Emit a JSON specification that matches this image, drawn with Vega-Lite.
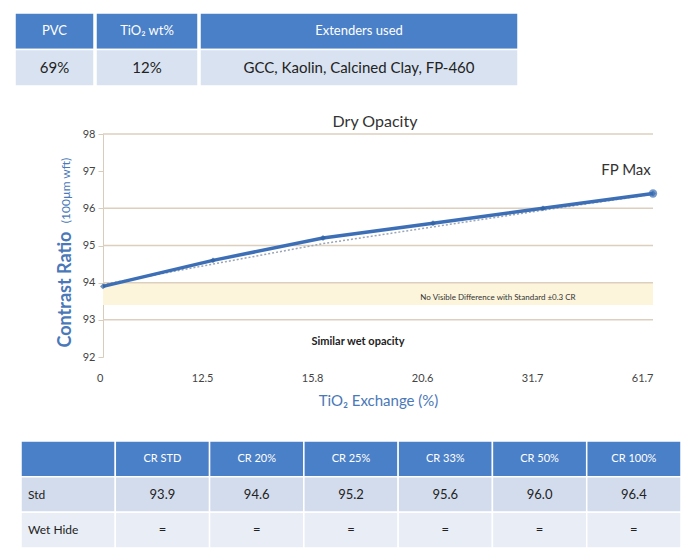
{
  "$schema": "https://vega.github.io/schema/vega-lite/v6.json",
  "padding": {"left": 14, "top": 12, "right": 7, "bottom": 4},
  "background": "white",
  "config": {"view": {"stroke": null}, "font": "Lato", "concat": {"spacing": 25}},
  "spacing": 25,
  "resolve": {"scale": {"color": "independent"}},
  "datasets": {
    "top": [
      {"col": "PVC", "row": "header", "text": "PVC"},
      {"col": "PVC", "row": "data", "text": "69%"},
      {"col": "TiO2", "row": "header", "text": "TiO₂ wt%"},
      {"col": "TiO2", "row": "data", "text": "12%"},
      {"col": "Ext", "row": "header", "text": "Extenders used"},
      {"col": "Ext", "row": "data", "text": "GCC, Kaolin, Calcined Clay, FP-460"}
    ],
    "cr": [
      {"exch": "0", "cr": 93.9, "trend": 93.95},
      {"exch": "12.5", "cr": 94.6, "trend": 94.5},
      {"exch": "15.8", "cr": 95.2, "trend": 95.05},
      {"exch": "20.6", "cr": 95.6, "trend": 95.5},
      {"exch": "31.7", "cr": 96.0, "trend": 95.95},
      {"exch": "61.7", "cr": 96.4, "trend": 96.38}
    ],
    "grid": [{"v": 98}, {"v": 96}, {"v": 95}, {"v": 94}, {"v": 93}],
    "band": [{"lo": 93.4, "hi": 94.0}],
    "one": [{}],
    "bottom": [
      {"row": "header", "col": "lbl", "text": ""},
      {"row": "header", "col": "CR STD", "text": "CR STD"},
      {"row": "header", "col": "CR 20%", "text": "CR 20%"},
      {"row": "header", "col": "CR 25%", "text": "CR 25%"},
      {"row": "header", "col": "CR 33%", "text": "CR 33%"},
      {"row": "header", "col": "CR 50%", "text": "CR 50%"},
      {"row": "header", "col": "CR 100%", "text": "CR 100%"},
      {"row": "Std", "col": "lbl", "text": "Std"},
      {"row": "Std", "col": "CR STD", "text": "93.9"},
      {"row": "Std", "col": "CR 20%", "text": "94.6"},
      {"row": "Std", "col": "CR 25%", "text": "95.2"},
      {"row": "Std", "col": "CR 33%", "text": "95.6"},
      {"row": "Std", "col": "CR 50%", "text": "96.0"},
      {"row": "Std", "col": "CR 100%", "text": "96.4"},
      {"row": "Wet Hide", "col": "lbl", "text": "Wet Hide"},
      {"row": "Wet Hide", "col": "CR STD", "text": "="},
      {"row": "Wet Hide", "col": "CR 20%", "text": "="},
      {"row": "Wet Hide", "col": "CR 25%", "text": "="},
      {"row": "Wet Hide", "col": "CR 33%", "text": "="},
      {"row": "Wet Hide", "col": "CR 50%", "text": "="},
      {"row": "Wet Hide", "col": "CR 100%", "text": "="}
    ]
  },
  "vconcat": [
    {
      "spacing": 0,
      "hconcat": [
        {
          "width": 79, "height": 73,
          "data": {"name": "top"},
          "transform": [{"filter": "datum.col === 'PVC'"}],
          "encoding": {"y": {"field": "row", "type": "nominal", "scale": {"domain": ["header", "data"], "paddingInner": 0, "paddingOuter": 0}, "axis": null}},
          "layer": [
            {"mark": {"type": "rect", "stroke": "white", "strokeWidth": 1.5}, "encoding": {"color": {"field": "row", "type": "nominal", "scale": {"domain": ["header", "data"], "range": ["#4a80c8", "#d9e2f0"]}, "legend": null}}},
            {"mark": {"type": "text"}, "encoding": {"text": {"field": "text"}, "size": {"condition": {"test": "datum.row === 'header'", "value": 13}, "value": 15}, "color": {"condition": {"test": "datum.row === 'header'", "value": "white"}, "value": "#222"}}}
          ]
        },
        {
          "width": 102, "height": 73,
          "data": {"name": "top"},
          "transform": [{"filter": "datum.col === 'TiO2'"}],
          "encoding": {"y": {"field": "row", "type": "nominal", "scale": {"domain": ["header", "data"], "paddingInner": 0, "paddingOuter": 0}, "axis": null}},
          "layer": [
            {"mark": {"type": "rect", "stroke": "white", "strokeWidth": 1.5}, "encoding": {"color": {"field": "row", "type": "nominal", "scale": {"domain": ["header", "data"], "range": ["#4a80c8", "#d9e2f0"]}, "legend": null}}},
            {"mark": {"type": "text"}, "encoding": {"text": {"field": "text"}, "size": {"condition": {"test": "datum.row === 'header'", "value": 13}, "value": 15}, "color": {"condition": {"test": "datum.row === 'header'", "value": "white"}, "value": "#222"}}}
          ]
        },
        {
          "width": 318, "height": 73,
          "data": {"name": "top"},
          "transform": [{"filter": "datum.col === 'Ext'"}],
          "encoding": {"y": {"field": "row", "type": "nominal", "scale": {"domain": ["header", "data"], "paddingInner": 0, "paddingOuter": 0}, "axis": null}},
          "layer": [
            {"mark": {"type": "rect", "stroke": "white", "strokeWidth": 1.5}, "encoding": {"color": {"field": "row", "type": "nominal", "scale": {"domain": ["header", "data"], "range": ["#4a80c8", "#d9e2f0"]}, "legend": null}}},
            {"mark": {"type": "text"}, "encoding": {"text": {"field": "text"}, "size": {"condition": {"test": "datum.row === 'header'", "value": 13}, "value": 15}, "color": {"condition": {"test": "datum.row === 'header'", "value": "white"}, "value": "#222"}}}
          ]
        }
      ]
    },
    {
      "width": 670, "height": 245,
      "layer": [
        {
          "data": {"name": "band"},
          "mark": {"type": "rect", "color": "#fcf5dc"},
          "encoding": {
            "x": {"datum": "0", "type": "ordinal"},
            "x2": {"datum": "61.7"},
            "y": {"field": "hi", "type": "quantitative"},
            "y2": {"field": "lo"}
          }
        },
        {
          "data": {"name": "grid"},
          "mark": {"type": "rule", "color": "#dccfbe", "strokeWidth": 1.5},
          "encoding": {
            "x": {"datum": "0", "type": "ordinal"},
            "x2": {"datum": "61.7"},
            "y": {"field": "v", "type": "quantitative"}
          }
        },
        {
          "data": {"name": "cr"},
          "mark": {"type": "line", "color": "#9aa5b5", "strokeWidth": 1.5, "strokeDash": [2, 2]},
          "encoding": {
            "x": {"field": "exch", "type": "ordinal"},
            "y": {"field": "trend", "type": "quantitative"}
          }
        },
        {
          "data": {"name": "cr"},
          "mark": {"type": "line", "color": "#3d6fb6", "strokeWidth": 3.5},
          "encoding": {
            "x": {"field": "exch", "type": "ordinal", "sort": null,
                  "scale": {"type": "point", "domain": ["0", "12.5", "15.8", "20.6", "31.7", "61.7"], "range": [88, 638], "padding": 0},
                  "axis": {"title": "TiO₂ Exchange (%)", "labelAngle": 0, "domain": false, "ticks": false, "labelPadding": 21, "labelFontSize": 11, "labelColor": "#444", "titleColor": "#4a78b8", "titleFontSize": 15, "titleFontWeight": "normal", "titlePadding": 10}},
            "y": {"field": "cr", "type": "quantitative",
                  "scale": {"domain": [92, 98], "range": [245, 22], "zero": false, "nice": false},
                  "axis": {"title": "Contrast Ratio", "values": [92, 93, 94, 95, 96, 97, 98], "offset": -88, "grid": false, "domainColor": "#d8cdbd", "tickColor": "#d8cdbd", "tickSize": 5, "labelFontSize": 11, "labelColor": "#444", "labelPadding": 3, "titleColor": "#4a78b8", "titleFontSize": 18, "titleFontWeight": "bold", "titleY": 235, "titleAlign": "left", "titlePadding": 8}}
          }
        },
        {
          "data": {"name": "cr"},
          "mark": {"type": "point", "shape": "diamond", "filled": true, "size": 35, "color": "#2f5f9f"},
          "encoding": {
            "x": {"field": "exch", "type": "ordinal"},
            "y": {"field": "cr", "type": "quantitative"}
          }
        },
        {
          "data": {"name": "cr"},
          "transform": [{"filter": "datum.exch === '61.7'"}],
          "mark": {"type": "point", "shape": "circle", "filled": true, "size": 70, "color": "#3d6fb6"},
          "encoding": {
            "x": {"field": "exch", "type": "ordinal"},
            "y": {"field": "cr", "type": "quantitative"}
          }
        },
        {
          "data": {"name": "one"},
          "mark": {"type": "text", "text": "Dry Opacity", "fontSize": 16, "color": "#333", "dx": 52},
          "encoding": {"x": {"datum": "15.8", "type": "ordinal"}, "y": {"datum": 98.32, "type": "quantitative"}}
        },
        {
          "data": {"name": "one"},
          "mark": {"type": "text", "text": "FP Max", "fontSize": 15, "color": "#333", "dx": -27},
          "encoding": {"x": {"datum": "61.7", "type": "ordinal"}, "y": {"datum": 97.03, "type": "quantitative"}}
        },
        {
          "data": {"name": "one"},
          "mark": {"type": "text", "text": "No Visible  Difference with Standard  ±0.3 CR", "fontSize": 8, "color": "#333", "dx": 65},
          "encoding": {"x": {"datum": "20.6", "type": "ordinal"}, "y": {"datum": 93.59, "type": "quantitative"}}
        },
        {
          "data": {"name": "one"},
          "mark": {"type": "text", "text": "Similar wet opacity", "fontSize": 11, "fontWeight": "bold", "color": "#222", "dx": 35},
          "encoding": {"x": {"datum": "15.8", "type": "ordinal"}, "y": {"datum": 92.4, "type": "quantitative"}}
        },
        {
          "data": {"name": "one"},
          "mark": {"type": "text", "text": "(100µm wft)", "fontSize": 12, "color": "#4a78b8", "angle": 270, "align": "left", "baseline": "middle", "dy": -37},
          "encoding": {"x": {"datum": "0", "type": "ordinal"}, "y": {"datum": 95.6, "type": "quantitative"}}
        }
      ]
    },
    {
      "width": 670, "height": 115,
      "data": {"name": "bottom"},
      "encoding": {
        "x": {"field": "col", "type": "nominal", "scale": {"domain": ["lbl", "CR STD", "CR 20%", "CR 25%", "CR 33%", "CR 50%", "CR 100%"], "range": [6, 666], "paddingInner": 0, "paddingOuter": 0}, "axis": null},
        "y": {"field": "row", "type": "nominal", "scale": {"domain": ["header", "Std", "Wet Hide"], "range": [8, 115], "paddingInner": 0, "paddingOuter": 0}, "axis": null}
      },
      "layer": [
        {"mark": {"type": "rect", "stroke": "white", "strokeWidth": 1.5}, "encoding": {"color": {"field": "row", "type": "nominal", "scale": {"domain": ["header", "Std", "Wet Hide"], "range": ["#4a80c8", "#d3dcec", "#e8edf6"]}, "legend": null}}},
        {
          "transform": [{"filter": "datum.col !== 'lbl'"}],
          "mark": {"type": "text"},
          "encoding": {"text": {"field": "text"}, "size": {"condition": {"test": "datum.row === 'header'", "value": 11}, "value": 13}, "color": {"condition": {"test": "datum.row === 'header'", "value": "white"}, "value": "#222"}}
        },
        {
          "transform": [{"filter": "datum.col === 'lbl'"}],
          "mark": {"type": "text", "fontSize": 12, "align": "left", "dx": 7, "color": "#222"},
          "encoding": {"x": {"field": "col", "type": "nominal", "bandPosition": 0}, "text": {"field": "text"}}
        }
      ]
    }
  ]
}
